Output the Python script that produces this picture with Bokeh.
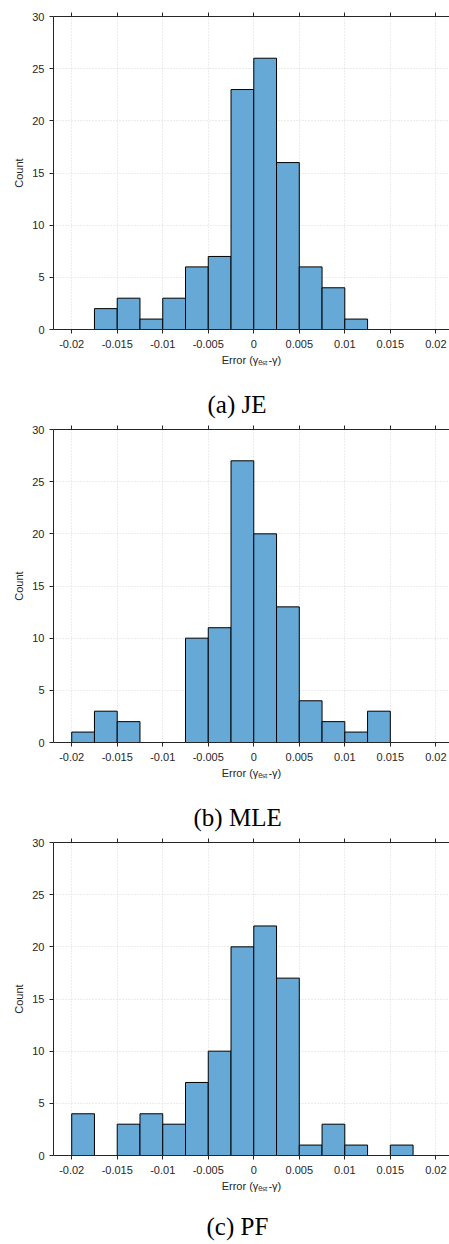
from bokeh.plotting import figure
from bokeh.layouts import column
from bokeh.models import Range1d, FixedTicker, LinearAxis, Title, ColumnDataSource
from bokeh.embed import file_html
from bokeh.resources import INLINE

# ---- data ----
bin_left = [-0.02, -0.0175, -0.015, -0.0125, -0.01, -0.0075, -0.005, -0.0025,
            0.0, 0.0025, 0.005, 0.0075, 0.01, 0.0125, 0.015, 0.0175]
bin_right = [-0.0175, -0.015, -0.0125, -0.01, -0.0075, -0.005, -0.0025, 0.0,
             0.0025, 0.005, 0.0075, 0.01, 0.0125, 0.015, 0.0175, 0.02]
je_counts = [0, 2, 3, 1, 3, 6, 7, 23, 26, 16, 6, 4, 1, 0, 0, 0]
mle_counts = [1, 3, 2, 0, 0, 10, 11, 27, 20, 13, 4, 2, 1, 3, 0, 0]
pf_counts = [4, 0, 3, 4, 3, 7, 10, 20, 22, 17, 1, 3, 1, 0, 1, 0]
x_ticks = [-0.02, -0.015, -0.01, -0.005, 0.0, 0.005, 0.01, 0.015, 0.02]
x_tick_labels = ["-0.02", "-0.015", "-0.01", "-0.005", "0", "0.005", "0.01", "0.015", "0.02"]
y_ticks = [0, 5, 10, 15, 20, 25, 30]
x_label = "Error (γₑₛₜ-γ)"
y_label = "Count"
captions = ["(a) JE", "(b) MLE", "(c) PF"]
caption_offsets = [154, 140, 153]
panel_counts = [je_counts, mle_counts, pf_counts]

AX = "#262626"
FONT = "Liberation Sans"
BAR = "#66A9D6"
GRID = "#d9d9d9"
CAP_FONT = "Liberation Serif"
CAP_SIZE = "25px"


def style_axis(ax):
    ax.axis_line_color = AX
    ax.major_tick_line_color = AX
    ax.major_tick_out = 4
    ax.major_tick_in = 0
    ax.minor_tick_line_color = None
    ax.major_label_text_font = FONT
    ax.major_label_text_font_size = "11px"
    ax.major_label_text_color = AX
    ax.axis_label_text_font = FONT
    ax.axis_label_text_font_size = "11px"
    ax.axis_label_text_font_style = "normal"
    ax.axis_label_text_color = AX


def caption_title(text, offset, standoff):
    return Title(text=text, align="left", offset=offset, standoff=standoff,
                 vertical_align="bottom",
                 text_font=CAP_FONT, text_font_size=CAP_SIZE,
                 text_font_style="normal", text_color="#000000")


def make_panel(counts, border_top, border_bottom, height, cap_above=None, cap_below=None):
    p = figure(width=449, height=height,
               x_range=Range1d(-0.022, 0.0215), y_range=Range1d(0, 30),
               output_backend="svg", toolbar_location=None, tools="",
               min_border_left=53, min_border_right=0,
               min_border_top=border_top, min_border_bottom=border_bottom)
    p.outline_line_color = None
    p.background_fill_color = "white"
    p.border_fill_color = "white"

    src = ColumnDataSource(dict(left=bin_left, right=bin_right, top=counts,
                                bottom=[0] * len(counts)))
    p.quad(left="left", right="right", top="top", bottom="bottom", source=src,
           fill_color=BAR, line_color="#000000", line_width=1)

    # bottom x axis
    xa = p.xaxis[0]
    xa.ticker = FixedTicker(ticks=x_ticks)
    xa.major_label_overrides = {t: l for t, l in zip(x_ticks, x_tick_labels)}
    style_axis(xa)
    xa.major_label_standoff = 6
    xa.axis_label = x_label
    xa.axis_label_standoff = 3

    # left y axis
    ya = p.yaxis[0]
    ya.ticker = FixedTicker(ticks=y_ticks)
    style_axis(ya)
    ya.axis_label = y_label
    ya.major_label_standoff = 5
    ya.axis_label_standoff = 4

    # top axis (box) with ticks, no labels
    top = LinearAxis(ticker=FixedTicker(ticks=x_ticks),
                     major_label_overrides={t: "" for t in x_ticks})
    style_axis(top)
    top.major_label_text_font_size = "1px"
    top.major_label_standoff = 0
    p.add_layout(top, "above")

    # grids
    p.xgrid.ticker = FixedTicker(ticks=x_ticks)
    p.ygrid.ticker = FixedTicker(ticks=y_ticks)
    for g in (p.xgrid[0], p.ygrid[0]):
        g.grid_line_color = GRID
        g.grid_line_dash = "1 2"
        g.grid_line_width = 1

    # caption of the previous panel, drawn in this panel's top margin
    if cap_above is not None:
        p.add_layout(caption_title(cap_above[0], cap_above[1], 16), "above")
    # caption of this panel below its own axis (last panel only)
    if cap_below is not None:
        gap = LinearAxis(ticker=FixedTicker(ticks=[0.0]),
                         major_label_overrides={0.0: ""},
                         axis_line_color=None, major_tick_line_color=None,
                         minor_tick_line_color=None,
                         major_tick_out=16, major_tick_in=0, minor_tick_out=0,
                         major_label_standoff=0, major_label_text_font_size="1px")
        p.add_layout(gap, "below")
        p.add_layout(caption_title(cap_below[0], cap_below[1], 0), "below")
    return p


cap = list(zip(captions, caption_offsets))
f1 = make_panel(je_counts, 16, 46, 16 + 313 + 46)
f2 = make_panel(mle_counts, 54, 46, 54 + 313 + 46, cap_above=cap[0])
f3 = make_panel(pf_counts, 54, 88, 54 + 313 + 88, cap_above=cap[1], cap_below=cap[2])
layout = column(f1, f2, f3, spacing=0)
open("out.html", "w").write(file_html(layout, INLINE))
